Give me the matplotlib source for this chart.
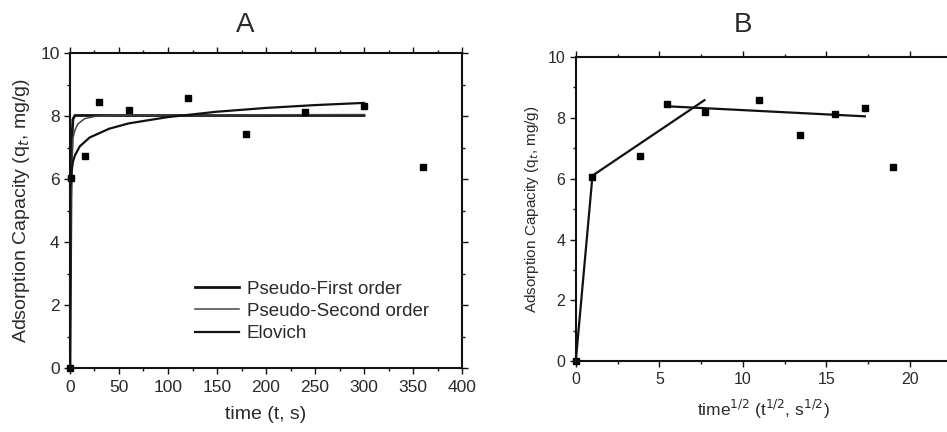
import matplotlib
matplotlib.use("Agg")
import matplotlib.pyplot as plt
from matplotlib.ticker import MultipleLocator, FixedLocator

plt.rcParams['font.family'] = ['Liberation Sans', 'DejaVu Sans']

# measured points (time in s, capacity in mg/g)
time_s = [0, 1, 15, 30, 60, 120, 180, 240, 300, 360]
q_t = [0, 6.05, 6.74, 8.45, 8.19, 8.59, 7.43, 8.14, 8.32, 6.37]

# same points against time^(1/2)
sqrt_t = [0, 1.0, 3.87, 5.48, 7.75, 10.95, 13.42, 15.49, 17.32, 18.97]

# model curves
pfo_t = [0, 1, 2, 3, 5, 300]
pfo_q = [0, 5.4, 7.3, 7.9, 8.02, 8.02]
pso_t = [0, 1, 3, 5, 8, 15, 25, 50, 300]
pso_q = [0, 5.6, 7.3, 7.55, 7.75, 7.92, 7.99, 8.03, 8.05]
elo_t = [0.5, 1, 3, 5, 10, 20, 40, 60, 100, 150, 200, 250, 300]
elo_q = [5.8, 6.1, 6.55, 6.75, 7.04, 7.32, 7.6, 7.77, 7.97, 8.14, 8.26, 8.35, 8.42]

# intraparticle diffusion segments
seg1_x = [0, 1.0, 7.7]
seg1_y = [0, 6.1, 8.58]
seg2_x = [5.5, 17.3]
seg2_y = [8.38, 8.05]

b_major = [0, 5, 10, 15, 20]

txt = '#2a2a2a'

fig = plt.figure(figsize=(9.47, 4.32), dpi=100)
axA = fig.add_axes([0.0739, 0.148, 0.414, 0.729])
# panel B runs a little past the right edge of the picture, as in the source
axB = fig.add_axes([0.608, 0.164, 0.397, 0.704])


def style_axes(ax, fs):
    for sp in ax.spines.values():
        sp.set_linewidth(1.5)
        sp.set_color('#111111')
    ax.tick_params(which='both', direction='out', top=True, right=True,
                   width=1.0, colors='#111111', labelcolor=txt, labelsize=fs)
    ax.tick_params(which='major', length=4)
    ax.tick_params(which='minor', length=2.5)


# --- panel A
axA.plot(pfo_t, pfo_q, color='#111111', lw=2.0, label='Pseudo-First order')
axA.plot(pso_t, pso_q, color='#444444', lw=1.1, label='Pseudo-Second order')
axA.plot(elo_t, elo_q, color='#111111', lw=1.6, label='Elovich')
axA.plot(time_s, q_t, ls='none', marker='s', ms=5, color='#000000', clip_on=False)
axA.set_xlim(0, 400)
axA.set_ylim(0, 10)
axA.xaxis.set_major_locator(MultipleLocator(50))
axA.xaxis.set_minor_locator(MultipleLocator(25))
axA.yaxis.set_major_locator(MultipleLocator(2))
axA.yaxis.set_minor_locator(MultipleLocator(1))
style_axes(axA, 12.5)
axA.tick_params(axis='x', pad=4.5)
axA.set_xlabel('time (t, s)', fontsize=14, color=txt, labelpad=8)
axA.set_ylabel('Adsorption Capacity (q$_t$, mg/g)', fontsize=14, color=txt, labelpad=6)
axA.legend(loc='upper left', bbox_to_anchor=(0.319, 0.278), frameon=False,
           fontsize=13.5, handlelength=2.35, handletextpad=0.4, labelspacing=0.28,
           borderpad=0, borderaxespad=0, labelcolor=txt)

# --- panel B
axB.plot(seg1_x, seg1_y, color='#111111', lw=1.6)
axB.plot(seg2_x, seg2_y, color='#111111', lw=1.6)
axB.plot(sqrt_t, q_t, ls='none', marker='s', ms=5, color='#000000', clip_on=False)
axB.set_xlim(0, 22.5)
axB.set_ylim(0, 10)
axB.xaxis.set_major_locator(FixedLocator(b_major))
axB.xaxis.set_minor_locator(MultipleLocator(2.5))
axB.yaxis.set_major_locator(MultipleLocator(2))
axB.yaxis.set_minor_locator(MultipleLocator(1))
style_axes(axB, 11.5)
axB.set_xlabel('time$^{1/2}$ (t$^{1/2}$, s$^{1/2}$)', fontsize=12.5, color=txt, labelpad=8)
axB.set_ylabel('Adsorption Capacity (q$_t$, mg/g)', fontsize=11, color=txt, labelpad=5)

fig.text(245 / 947, 1 - 25 / 432, 'A', fontsize=20, ha='center', va='center', color=txt)
fig.text(743 / 947, 1 - 25 / 432, 'B', fontsize=20, ha='center', va='center', color=txt)

fig.savefig('out.png', dpi=100)
